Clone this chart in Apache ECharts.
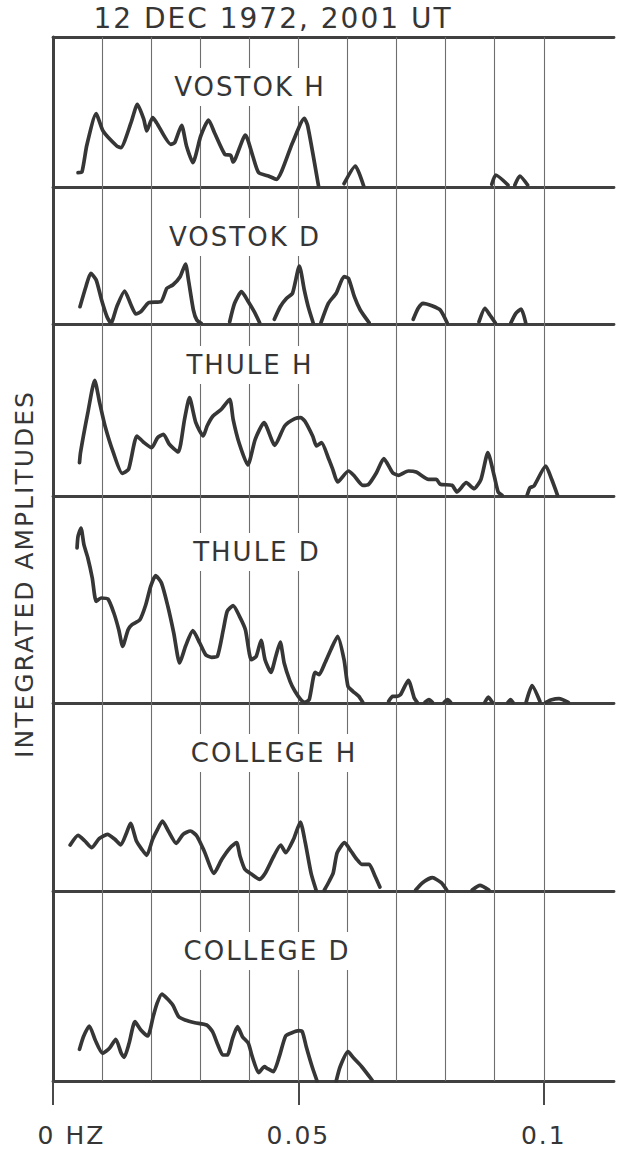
<!DOCTYPE html>
<html>
<head>
<meta charset="utf-8">
<title>Integrated amplitude spectra, 12 Dec 1972</title>
<script src="https://cdn.jsdelivr.net/npm/echarts@6/dist/echarts.min.js"></script>
<style>
  html, body { margin: 0; padding: 0; background: #ffffff; }
  #chart { width: 623px; height: 1154px; }
  /* lettering is spaced out like stencil lettering */
  #chart text { letter-spacing: 2px; }
</style>
</head>
<body>
<div id="chart"></div>
<script>
// ---- text ----
const chartTitle = '12 DEC 1972, 2001 UT';
const yTitle = 'INTEGRATED AMPLITUDES';
const panelNames = ['VOSTOK H', 'VOSTOK D', 'THULE H', 'THULE D', 'COLLEGE H', 'COLLEGE D'];

// ---- frequency axis (mHz) ----
const freqMin = 0;
const freqMax = 114.3;
const gridFreqs = [10, 20, 30, 40, 50, 60, 70, 80, 90, 100];
const tickFreqs = [0, 50, 100];
const tickLabels = ['0 HZ', '0.05', '0.1'];

// ---- amplitude range of each panel (relative units) ----
const amplitudeMax = [150, 137, 172, 207, 188, 190];

// ---- spectra: each is a list of traced segments of [frequency mHz, amplitude] ----
const vostokH = [
  [[5.1,14.3],[5.9,15],[6.9,42],[8.8,73.3],[10.2,56],[13.0,41],[13.8,39.3],[15.9,64.3],[17.2,82.7],[18.5,67.7],
   [19.1,56],[20.3,69.3],[21.1,64.3],[24.0,42.7],[24.8,44.3],[26.2,61.7],[27.2,41],[28.5,24.3],[30.1,51],[31.7,67],
   [32.9,54.3],[35.0,32.7],[36.2,31.7],[36.7,25],[39.2,52],[40.7,31],[41.9,14.3],[43.9,11],[45.5,7.7],[48.8,44.3],
   [51.2,68.7],[51.9,61],[54.1,1]],
  [[59.3,3.3],[61.6,21],[63.3,1]],
  [[89.4,2.7],[90.2,12],[92.7,2]],
  [[94.1,2],[95.1,11],[96.7,2]]
];
const vostokD = [
  [[5.5,17.3],[6.7,37.3],[7.7,50.7],[8.8,44],[9.9,24],[11.0,7.3],[11.8,0.7],[13.0,17.3],[14.6,33],[15.9,19],
   [16.9,10],[17.9,12.3],[19.5,21.3],[22.0,22.3],[23.2,35.7],[24.4,39],[25.9,47.3],[27.0,60],[27.6,44],[28.6,14],
   [29.3,4],[30.2,0.7]],
  [[36.0,2.3],[37.0,20.7],[38.4,32.3],[39.8,22.3],[41.0,12.3],[42.1,1.3]],
  [[45.1,4.7],[46.3,17.3],[47.6,25.7],[48.8,30.7],[50.2,58],[51.2,34],[52.0,17.3],[53.0,1.3]],
  [[54.6,1.3],[56.1,20.7],[57.7,30.7],[59.3,47.3],[60.2,45.7],[61.4,27.3],[62.6,14],[64.4,1.3]],
  [[73.4,4.7],[74.4,15.7],[75.4,20.7],[77.2,18.3],[78.9,14],[80.3,1.3]],
  [[86.8,2.3],[88.0,15.7],[89.0,9],[90.1,1.3]],
  [[93.3,1.3],[94.3,10.7],[95.4,15],[96.3,1.3]]
];
const thuleH = [
  [[5.4,33.3],[5.6,43.3],[7.1,83.3],[8.5,115.7],[9.5,93.3],[10.6,70],[12.3,43.3],[14.1,22.7],[15.4,26.7],[17.1,60],
   [18.4,54],[20.1,48.3],[21.3,58.3],[22.5,61.7],[23.7,51.7],[25.5,44],[26.8,76.7],[27.8,98.3],[29.1,73.3],[30.6,60],
   [31.4,70],[32.6,80],[34.3,86.7],[36.0,96.7],[36.7,76.7],[37.9,53.3],[39.7,31],[41.2,56.7],[43.0,73.3],[45.2,50.7],
   [47.2,70],[49.3,77.3],[50.5,78.3],[51.3,75],[52.9,60],[53.7,50],[54.7,53.3],[56.2,36.7],[57.0,26.7],[58.0,14],
   [60.2,25],[61.4,20],[63.1,10.7],[64.3,11.7],[65.9,23.3],[67.4,37.3],[69.2,23.3],[70.4,20.7],[72.4,25],[74.0,24],
   [76.5,16.7],[78.1,16.7],[78.9,11.7],[81.3,10.7],[82.3,4],[84.2,13.3],[85.8,7.3],[87.2,16.7],[88.6,43.3],[89.9,20],
   [90.7,4],[91.5,0.7]],
  [[96.6,0.7],[97.2,8.3],[98.0,10],[100.4,30],[101.6,16.7],[102.8,0.7]]
];
const thuleD = [
  [[4.9,155],[5.1,166.7],[5.7,175],[6.3,158.3],[7.1,145],[8.0,125],[8.8,101.7],[9.8,105],[11.2,104],[12.4,90],
   [13.4,73.3],[14.2,56.7],[15.3,73.3],[16.1,78.3],[17.7,83.3],[18.9,98.3],[19.9,116.7],[20.9,127.3],[22.1,120],[23.4,96.7],
   [24.6,70],[25.8,40],[27.0,56.7],[28.5,72.3],[29.9,60],[31.1,48.3],[32.3,45.7],[33.5,46.7],[34.7,73.3],[35.5,91.7],
   [36.7,97.3],[38.0,86.7],[39.2,73.3],[40.4,43.3],[41.4,46.7],[42.4,62.7],[43.2,43.3],[44.4,30.7],[45.4,46.7],[46.3,61],
   [47.1,40],[48.3,21.7],[49.3,11.7],[50.5,3.3],[51.3,0.7],[52.2,3.3],[53.4,30.7],[54.2,28.3],[55.4,40],[56.6,53.3],
   [58.0,66.7],[59.3,43.3],[60.1,16.7],[61.1,11.7],[62.3,6.7],[63.1,0.7]],
  [[68.4,1.7],[69.2,6.7],[70.0,6.7],[70.8,8.3],[72.4,22.7],[73.6,5],[74.2,0.7]],
  [[75.8,0.7],[76.6,3.3],[77.3,0.7]],
  [[79.7,0.7],[80.4,3.3],[81.0,0.7]],
  [[88.0,0.7],[88.7,6],[89.5,0.7]],
  [[92.7,0.7],[93.2,3.3],[93.7,0.7]],
  [[96.4,0.7],[97.6,17.3],[99.2,1.7]],
  [[100.4,0.7],[101.6,3.3],[103.1,4.3],[105.0,0.7]]
];
const collegeH = [
  [[3.5,46],[5.1,55.7],[6.5,50],[7.9,43.3],[9.4,52.3],[11.1,56.7],[12.6,51.7],[13.8,46],[15.0,58.3],[15.8,67.7],
   [17.0,50],[18.1,41.7],[19.1,35.7],[20.3,51.7],[21.3,61.7],[22.3,70],[23.5,60],[25.1,47.7],[26.5,56.7],[28.0,60],
   [29.3,55],[30.8,40],[32.8,17.7],[34.4,31.7],[36.1,43.3],[37.4,48.3],[38.1,35],[39.1,21.7],[40.5,16.7],[42.1,11.7],
   [43.3,18.3],[45.0,35],[46.4,46],[47.4,38.3],[49.0,51.7],[50.4,69],[51.4,48.3],[52.6,17.3],[53.6,1]],
  [[55.3,1],[56.3,10],[57.1,18.3],[57.9,38.3],[59.4,48.3],[60.7,40],[61.9,31.7],[62.9,26.7],[64.4,26.7],[65.6,15],[66.6,4]],
  [[73.9,1],[75.3,8.3],[77.3,13.3],[79.1,8.3],[80.2,1]],
  [[85.4,1],[87.0,5.7],[88.8,1]]
];
const collegeD = [
  [[5.4,31.7],[6.2,44.3],[7.4,55],[8.6,41],[10.1,27.7],[11.5,32.7],[12.8,41.7],[13.9,27.7],[14.5,23.7],[15.5,37.7],
   [16.7,59.3],[17.9,51],[19.3,45],[20.4,64.3],[21.2,77.7],[22.2,87],[23.2,82.7],[24.4,76],[25.6,64.3],[26.9,61],
   [28.9,58.3],[31.3,56],[32.5,49.3],[33.6,36],[34.6,26],[35.5,26],[36.6,42.7],[37.6,54.3],[38.6,44.3],[39.8,37.7],
   [40.6,24.3],[41.9,8.3],[43.1,14.3],[43.6,12.7],[44.9,9.3],[46.1,24.3],[47.4,45],[48.7,48.3],[50.1,50.3],[50.8,49.3],
   [51.6,34.3],[52.8,14.3],[53.8,0]],
  [[57.7,0],[58.5,14.3],[60.1,29.3],[61.3,22.7],[62.9,14.3],[65.0,1]]
];

const spectra = [vostokH, vostokD, thuleH, thuleD, collegeH, collegeD];

// ---- layout ----
const plotLeft = 53;
const plotRight = 9;
const panelTops = [37, 187, 324, 496, 703, 891];
const panelHeights = [150, 137, 172, 207, 188, 190];
const panelLabelX = [250, 245, 250, 257, 274, 267];
const panelLabelY = [87, 237, 365, 552, 753, 951];

const ink = '#363636';
const frameColor = '#404040';
const fontFamily = '"DejaVu Sans", "Liberation Sans", sans-serif';

// join traced segments into one series, with a gap between segments
function joinSegments(segments) {
  const out = [];
  segments.forEach((seg, i) => {
    if (i > 0) out.push([seg[0][0], '-']);
    seg.forEach(p => out.push(p));
  });
  return out;
}

const grids = [], xAxes = [], yAxes = [], series = [], graphics = [];

panelNames.forEach((name, i) => {
  grids.push({
    left: plotLeft, right: plotRight, top: panelTops[i], height: panelHeights[i],
    containLabel: false, outerBoundsMode: 'none'
  });
  xAxes.push({
    gridIndex: i, type: 'value', min: freqMin, max: freqMax,
    axisLine: { show: true, onZero: false, lineStyle: { color: frameColor, width: 2.8 } },
    axisTick: { show: false }, axisLabel: { show: false }, splitLine: { show: false }
  });
  yAxes.push({
    gridIndex: i, type: 'value', min: 0, max: amplitudeMax[i],
    axisLine: { show: true, onZero: false, lineStyle: { color: frameColor, width: 3 } },
    axisTick: { show: false }, axisLabel: { show: false }, splitLine: { show: false }
  });
  series.push({
    name: name, type: 'line', xAxisIndex: i, yAxisIndex: i,
    data: joinSegments(spectra[i]),
    symbol: 'none', showSymbol: false, smooth: 0.2, connectNulls: false,
    silent: true, z: 3, emphasis: { disabled: true },
    lineStyle: { color: ink, width: 3.7, cap: 'round', join: 'round' },
    markLine: {
      silent: true, z: 1, symbol: ['none', 'none'], animation: false,
      label: { show: false }, emphasis: { disabled: true },
      lineStyle: { color: '#6e6e6e', width: 1.1, type: 'solid' },
      data: gridFreqs.map(f => ({ xAxis: f }))
    }
  });
  graphics.push({
    type: 'text', x: panelLabelX[i], y: panelLabelY[i], z: 100, silent: true,
    style: {
      text: name, fill: ink, fontSize: 26, fontFamily: fontFamily,
      align: 'center', verticalAlign: 'middle',
      backgroundColor: '#ffffff', padding: [8, 14, 4, 14]
    }
  });
});

// top frame line
xAxes.push({
  gridIndex: 0, type: 'value', position: 'top', min: freqMin, max: freqMax,
  axisLine: { show: true, onZero: false, lineStyle: { color: frameColor, width: 2.8 } },
  axisTick: { show: false }, axisLabel: { show: false }, splitLine: { show: false }
});
// frequency ticks and labels under the last panel
xAxes.push({
  gridIndex: 5, type: 'value', position: 'bottom', offset: 6, min: freqMin, max: freqMax,
  axisLine: { show: false },
  axisTick: { show: true, customValues: tickFreqs, length: 24, lineStyle: { color: '#4a4a4a', width: 2 } },
  axisLabel: {
    show: true, customValues: tickFreqs, margin: 36,
    color: ink, fontSize: 25, fontFamily: fontFamily,
    formatter: v => {
      const idx = tickFreqs.indexOf(v);
      const t = idx >= 0 ? tickLabels[idx] : '';
      return idx === 0 ? '{first|' + t + '}' : t;
    },
    rich: { first: { color: ink, fontSize: 25, fontFamily: fontFamily, padding: [0, 0, 0, 37] } }
  },
  splitLine: { show: false }
});

graphics.push({
  type: 'text', x: 273, y: 18, z: 100, silent: true,
  style: { text: chartTitle, fill: ink, fontSize: 28, fontFamily: fontFamily, align: 'center', verticalAlign: 'middle' }
});
graphics.push({
  type: 'text', x: 24, y: 574, rotation: Math.PI / 2, z: 100, silent: true,
  style: { text: yTitle, fill: ink, fontSize: 25, fontFamily: fontFamily, align: 'center', verticalAlign: 'middle' }
});

const chart = echarts.init(document.getElementById('chart'), null, { renderer: 'svg' });
chart.setOption({
  backgroundColor: '#ffffff',
  animation: false,
  grid: grids,
  xAxis: xAxes,
  yAxis: yAxes,
  series: series,
  graphic: graphics
});
</script>
</body>
</html>
